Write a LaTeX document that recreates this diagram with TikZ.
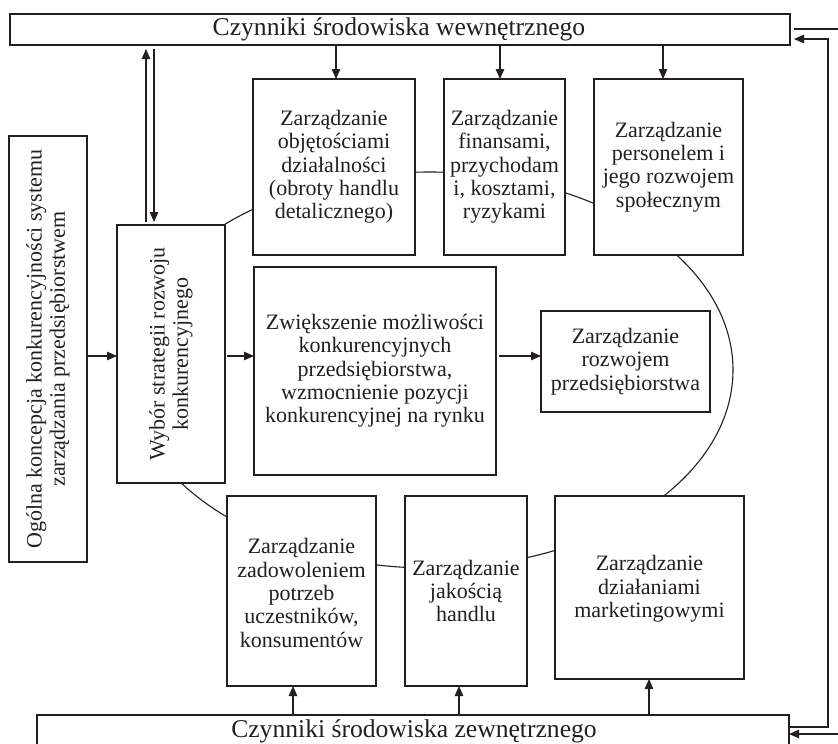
\documentclass[tikz,border=0pt]{standalone}
\usepackage{fontspec}
\setmainfont{Liberation Serif}
\usetikzlibrary{arrows.meta}
\definecolor{ink}{HTML}{231F20}
\begin{document}
\begin{tikzpicture}[x=1pt,y=-1pt,
  box/.style={draw=ink, line width=1.1pt, fill=white, inner sep=0pt, outer sep=0pt},
  lbl/.style={text=ink, font=\fontsize{22}{23.3}\selectfont, align=center, inner sep=0pt},
  big/.style={text=ink, font=\fontsize{25.6}{28}\selectfont, inner sep=0pt},
  arr/.style={draw=ink, line width=1.1pt, -{Triangle[length=10pt,width=8.5pt]}},
  ln/.style={draw=ink, line width=1.1pt}]
\useasboundingbox (0,0) rectangle (838,744);
% background ring
\draw[ln] (430,370) ellipse [x radius=303, y radius=198];
% frame boxes
\node[box, minimum width=780pt, minimum height=31pt] (top) at (400,29.5) {};
\node[big] (toptxt) at (399,29.5) {Czynniki środowiska wewnętrznego};
\node[box, minimum width=752pt, minimum height=50pt] (bot) at (413,740) {};
\node[big] (bottxt) at (414,731) {Czynniki środowiska zewnętrznego};
% left boxes
\node[box, minimum width=78pt, minimum height=426pt] (ogol) at (48,349) {};
\node[lbl, rotate=90] (ogoltxt) at (48,349) {Ogólna koncepcja konkurencyjności systemu\\zarządzania przedsiębiorstwem};
\node[box, minimum width=108pt, minimum height=258pt] (wyb) at (171,354) {};
\node[lbl, rotate=90] (wybtxt) at (171,354) {Wybór strategii rozwoju\\konkurencyjnego};
% top row
\node[box, minimum width=162pt, minimum height=176pt] (obj) at (334,167) {};
\node[lbl] (objtxt) at (334,167) {Zarządzanie\\objętościami\\działalności\\(obroty handlu\\detalicznego)};
\node[box, minimum width=121pt, minimum height=176pt] (fin) at (504.5,167) {};
\node[lbl] (fintxt) at (504.5,167) {Zarządzanie\\finansami,\\przychodam\\i, kosztami,\\ryzykami};
\node[box, minimum width=149pt, minimum height=176pt] (per) at (668.5,167) {};
\node[lbl] (pertxt) at (668.5,167) {Zarządzanie\\personelem i\\jego rozwojem\\społecznym};
% middle
\node[box, minimum width=242pt, minimum height=208pt] (zwi) at (375,371) {};
\node[lbl] (zwitxt) at (375,371) {Zwiększenie możliwości\\konkurencyjnych\\przedsiębiorstwa,\\wzmocnienie pozycji\\konkurencyjnej na rynku};
\node[box, minimum width=169pt, minimum height=101pt] (roz) at (625.5,361.5) {};
\node[lbl] (roztxt) at (625.5,361.5) {Zarządzanie\\rozwojem\\przedsiębiorstwa};
% bottom row
\node[box, minimum width=149pt, minimum height=190pt] (zad) at (301.5,591) {};
\node[lbl] (zadtxt) at (301.5,593) {Zarządzanie\\zadowoleniem\\potrzeb\\uczestników,\\konsumentów};
\node[box, minimum width=122pt, minimum height=190pt] (jak) at (466,591) {};
\node[lbl] (jaktxt) at (466,591) {Zarządzanie\\jakością\\handlu};
\node[box, minimum width=189pt, minimum height=183pt] (mar) at (649.5,587.5) {};
\node[lbl] (martxt) at (649.5,589) {Zarządzanie\\działaniami\\marketingowymi};
% arrows from top frame
\draw[arr] (top.south -| 336,0) -- (obj.north -| 336,0);
\draw[arr] (top.south -| 500,0) -- (fin.north -| 500,0);
\draw[arr] (top.south -| 663,0) -- (per.north -| 663,0);
\draw[arr, shorten <=3pt, shorten >=4pt] (wyb.north -| 146,0) -- (top.south -| 146,0);
\draw[arr, shorten <=4pt, shorten >=3pt] (top.south -| 154,0) -- (wyb.north -| 154,0);
% horizontal flow
\draw[arr] (ogol.east |- 0,356) -- (wyb.west |- 0,356);
\draw[arr, shorten <=2pt] (wyb.east |- 0,356) -- (zwi.west |- 0,356);
\draw[arr, shorten <=3pt] (zwi.east |- 0,356) -- (roz.west |- 0,356);
% arrows from bottom frame
\draw[arr] (bot.north -| 293,0) -- (zad.south -| 293,0);
\draw[arr] (bot.north -| 459,0) -- (jak.south -| 459,0);
\draw[arr] (bot.north -| 649,0) -- (mar.south -| 649,0);
% feedback loop on the right
\coordinate (lr) at (828,727);
\coordinate (ur) at (828,39);
\draw[arr, shorten >=4pt] (bot.east |- lr) -- (lr) -- (ur) -- (top.east |- ur);
\coordinate (inA) at (838,29);
\coordinate (inAend) at (794,29);
\draw[ln] (inA) -- (inAend);
\coordinate (inB) at (838,734);
\draw[arr] (inB) -- (bot.east |- inB);
\end{tikzpicture}
\end{document}
